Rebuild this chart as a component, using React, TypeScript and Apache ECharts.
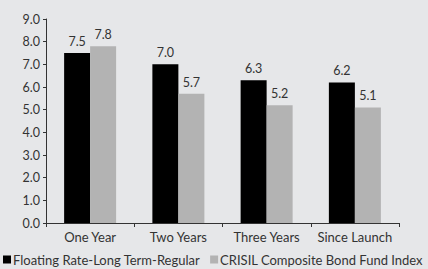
import React, { useEffect, useRef } from "react";
import * as echarts from "echarts";

const categories = ["One Year", "Two Years", "Three Years", "Since Launch"];
const fundValues = [7.5, 7.0, 6.3, 6.2];
const indexValues = [7.8, 5.7, 5.2, 5.1];
const seriesNames = ["Floating Rate-Long Term-Regular", "CRISIL Composite Bond Fund Index"];

export default function App() {
  const ref = useRef<HTMLDivElement>(null);
  useEffect(() => {
    const chart = echarts.init(ref.current!, null, { renderer: "svg" });
    const font = "Lato";
    const textColor = "#333";
    const label = {
      show: true,
      position: "top" as const,
      distance: 5,
      color: textColor,
      fontFamily: font,
      fontSize: 12.5,
      formatter: (p: any) => Number(p.value).toFixed(1),
    };
    chart.setOption({
      animation: false,
      backgroundColor: "#e6e7e9",
      textStyle: { fontFamily: font },
      grid: { left: 46, right: 29, top: 19, bottom: 46, containLabel: false },
      legend: {
        left: 3,
        top: 253,
        width: 600,
        padding: 0,
        itemWidth: 8,
        itemHeight: 8,
        itemGap: 10,
        icon: "rect",
        textStyle: { color: textColor, fontFamily: font, fontSize: 13, padding: [0, 0, 0, -3] },
        data: seriesNames,
      },
      xAxis: {
        type: "category",
        data: categories,
        axisLine: { lineStyle: { color: "#333" } },
        axisTick: { show: true, length: 4, lineStyle: { color: "#333" } },
        axisLabel: { color: textColor, fontFamily: font, fontSize: 13, margin: 7, interval: 0 },
      },
      yAxis: {
        type: "value",
        min: 0,
        max: 9,
        interval: 1,
        splitLine: { show: false },
        axisLine: { show: true, lineStyle: { color: "#333" } },
        axisTick: { show: true, length: 3, lineStyle: { color: "#333" } },
        axisLabel: {
          color: textColor,
          fontFamily: font,
          fontSize: 12.5,
          margin: 6,
          formatter: (v: number) => v.toFixed(1),
        },
      },
      series: [
        {
          name: seriesNames[0],
          type: "bar",
          data: fundValues,
          barWidth: 26,
          barGap: "0%",
          itemStyle: { color: "#000000" },
          label,
        },
        {
          name: seriesNames[1],
          type: "bar",
          data: indexValues,
          barWidth: 26,
          itemStyle: { color: "#b3b3b3" },
          label,
        },
      ],
    });
    return () => chart.dispose();
  }, []);
  return <div ref={ref} style={{ width: 428, height: 269, position: "absolute", left: 0, top: 0 }} />;
}
